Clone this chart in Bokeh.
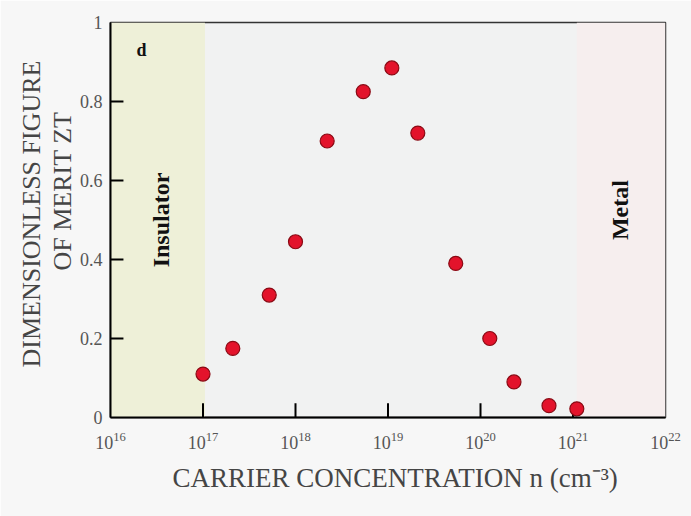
import math
from bokeh.plotting import figure
from bokeh.models import Range1d, FixedTicker, BoxAnnotation, Label, ColumnDataSource, Title
from bokeh.embed import file_html
from bokeh.resources import INLINE

# data
carrier_conc = [1.0e17, 2.1e17, 5.2e17, 1.0e18, 2.2e18, 5.4e18, 1.1e19, 2.1e19,
                5.4e19, 1.26e20, 2.3e20, 5.5e20, 1.1e21]
zt_values = [0.11, 0.175, 0.31, 0.445, 0.70, 0.825, 0.885, 0.72,
             0.39, 0.20, 0.09, 0.03, 0.022]
x_tick_values = [1e16, 1e17, 1e18, 1e19, 1e20, 1e21, 1e22]
y_tick_values = [0, 0.2, 0.4, 0.6, 0.8, 1.0]
y_tick_labels = ["0", "0.2", "0.4", "0.6", "0.8", "1"]
insulator_range = (1e16, 1.05e17)
metal_range = (1.1e21, 1e22)
x_title = "CARRIER CONCENTRATION n (cm⁻³)"
y_title_lines = ["OF MERIT ZT", "DIMENSIONLESS FIGURE"]   # inner line first

SERIF = "Liberation Serif"
X_MIN, X_MAX, Y_MIN, Y_MAX = 1e16, 1e22, 0.0, 1.0
TXT = "#454545"

p = figure(width=691, height=516, x_axis_type="log",
           x_range=Range1d(X_MIN, X_MAX), y_range=Range1d(Y_MIN, Y_MAX),
           output_backend="svg", toolbar_location=None,
           min_border_left=110, min_border_right=26,
           min_border_top=22, min_border_bottom=99)

p.background_fill_color = "#f1f2f2"
p.border_fill_color = "#f7f7f7"
p.outline_line_color = "#333333"
p.outline_line_width = 1.5
p.grid.visible = False

p.add_layout(BoxAnnotation(left=insulator_range[0], right=insulator_range[1],
                           fill_color="#eef0d8", fill_alpha=1.0, line_alpha=0, level="underlay"))
p.add_layout(BoxAnnotation(left=metal_range[0], right=metal_range[1],
                           fill_color="#f6eeee", fill_alpha=1.0, line_alpha=0, level="underlay"))

# inward tick marks drawn from the tick arrays
x_inner = [t for t in x_tick_values if X_MIN < t < X_MAX]
y_inner = [t for t in y_tick_values if Y_MIN < t < Y_MAX]
tick_len_y = 0.036          # fraction of y range
tick_len_x = 10 ** 0.14     # factor along log x
p.segment(x0=x_inner, x1=x_inner, y0=[Y_MIN] * len(x_inner),
          y1=[Y_MIN + tick_len_y] * len(x_inner), line_color="black", line_width=2)
p.segment(x0=[X_MIN] * len(y_inner), x1=[X_MIN * tick_len_x] * len(y_inner),
          y0=y_inner, y1=y_inner, line_color="black", line_width=2)

src = ColumnDataSource(dict(x=carrier_conc, y=zt_values))
p.scatter("x", "y", source=src, size=14, fill_color="#e3132b",
          line_color="#8a0a14", line_width=1.2)

# axes
xa = p.xaxis[0]
xa.ticker = FixedTicker(ticks=x_tick_values, minor_ticks=[])
xa.major_label_standoff = 14

ya = p.yaxis[0]
ya.ticker = FixedTicker(ticks=y_tick_values, minor_ticks=[])
ya.major_label_overrides = {v: l for v, l in zip(y_tick_values, y_tick_labels)}
ya.major_label_standoff = 8
ya.major_label_orientation = "horizontal"

for ax in (xa, ya):
    ax.axis_line_color = "black"
    ax.axis_line_width = 2
    ax.major_tick_in = 0
    ax.major_tick_out = 0
    ax.minor_tick_line_color = None
    ax.major_label_text_font = SERIF
    ax.major_label_text_font_size = "18px"
    ax.major_label_text_color = "#555555"

# x axis title below
p.add_layout(Title(text=x_title, align="left", offset=62, standoff=18,
                   text_font=SERIF, text_font_size="27px", text_font_style="normal",
                   text_color=TXT), "below")

# y axis title: two stacked lines on the left
p.add_layout(Title(text=y_title_lines[0], align="left", offset=147, standoff=0,
                   text_font=SERIF, text_font_size="26px", text_font_style="normal",
                   text_color=TXT, text_line_height=0.65), "left")
p.add_layout(Title(text=y_title_lines[1], align="left", offset=50, standoff=0,
                   text_font=SERIF, text_font_size="26px", text_font_style="normal",
                   text_color=TXT, text_line_height=0.7), "left")

p.add_layout(Label(x=26, y=358, x_units="screen", y_units="screen", text="d",
                   text_font=SERIF, text_font_style="bold", text_font_size="18px",
                   text_color="#111111"))
p.add_layout(Label(x=3.5e16, y=0.50, text="Insulator", angle=math.pi / 2,
                   text_font=SERIF, text_font_style="bold", text_font_size="24px",
                   text_color="#111111", text_align="center", text_baseline="middle"))
p.add_layout(Label(x=3.2e21, y=0.525, text="Metal", angle=math.pi / 2,
                   text_font=SERIF, text_font_style="bold", text_font_size="24px",
                   text_color="#111111", text_align="center", text_baseline="middle"))

open("out.html", "w").write(file_html(p, INLINE))
